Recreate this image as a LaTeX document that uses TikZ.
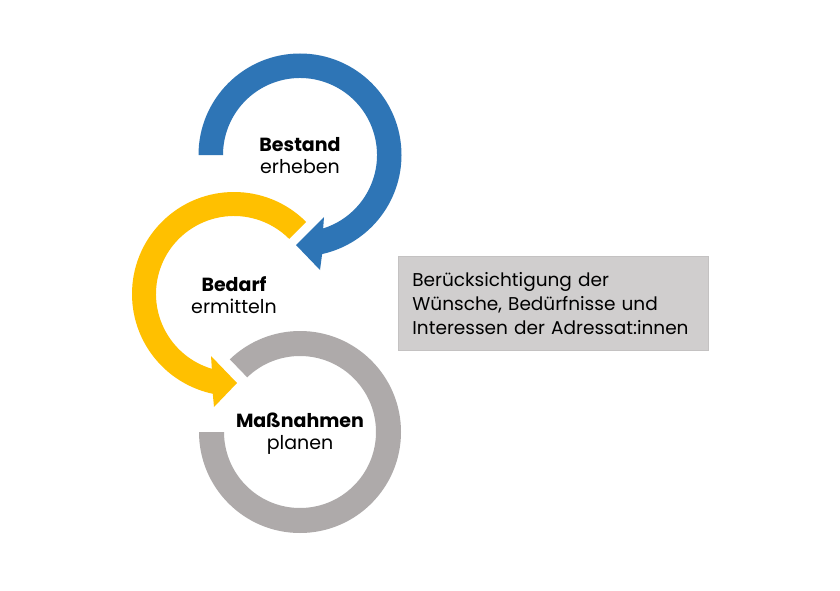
\documentclass[tikz,border=0pt]{standalone}
\usepackage{fontspec}
\setmainfont{Poppins}
\definecolor{cblue}{HTML}{2E75B6}
\definecolor{cyellow}{HTML}{FFC000}
\definecolor{cgray}{HTML}{AEAAAA}
\definecolor{boxfill}{HTML}{D0CECE}
\definecolor{boxline}{HTML}{C4C2C2}
\begin{document}
\begin{tikzpicture}[x=1pt,y=-1pt,
  lbl/.style={align=center,font=\fontsize{19}{22}\selectfont,inner sep=0pt},
  note/.style={draw=boxline,fill=boxfill,line width=0.8pt,align=left,
    font=\fontsize{18.5}{24}\selectfont,text width=282pt,inner xsep=14pt,
    minimum width=310pt,minimum height=94pt,anchor=north west}]
\useasboundingbox (0,0) rectangle (840,591);
\fill[white] (0,0) rectangle (840,591);
% blue ring with arrow
\fill[cblue] ([shift={(300,155)}]180:101.5) arc[start angle=180,end angle=437.4,radius=101.5]
  -- (320,270) -- (296,245) -- (324,217)
  -- ([shift={(300,155)}]432.5:77) arc[start angle=432.5,end angle=180,radius=77] -- cycle;
% yellow ring with arrow
\fill[cyellow] ([shift={(234,294)}]-45:102) arc[start angle=-45,end angle=-258,radius=102]
  -- (214,407) -- (237,383) -- (211,356)
  -- ([shift={(234,294)}]-253.5:78) arc[start angle=-253.5,end angle=-45,radius=78] -- cycle;
% gray ring
\fill[cgray] ([shift={(300,432)}]180:101) arc[start angle=180,end angle=-134,radius=101]
  -- ([shift={(300,432)}]-134:76) arc[start angle=-134,end angle=180,radius=76] -- cycle;
\node[lbl] (bestand) at (300,156) {\textbf{Bestand}\\erheben};
\node[lbl] (bedarf) at (234,295) {\textbf{Bedarf}\\ermitteln};
\node[lbl] (massn) at (300,434) {\textbf{Maßnahmen}\\planen};
\node[note] (box) at (398,256) {Berücksichtigung der\\Wünsche, Bedürfnisse und\\Interessen der Adressat:innen};
\end{tikzpicture}
\end{document}
